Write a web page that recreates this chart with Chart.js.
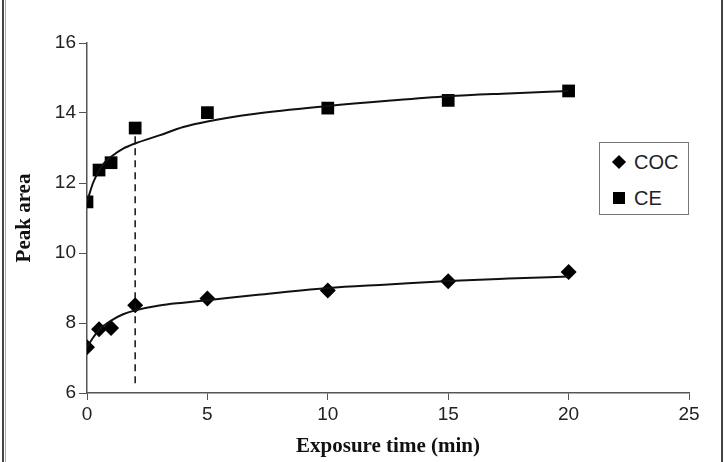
<!DOCTYPE html>
<html>
<head>
<meta charset="utf-8">
<script src="https://cdn.jsdelivr.net/npm/chart.js@4.4.0/dist/chart.umd.min.js"></script>
<style>
  html, body { margin: 0; padding: 0; background: #fff; }
  #wrap { position: relative; width: 724px; height: 462px; }
  #chart { position: absolute; left: 0; top: 0; }
  .edge { position: absolute; top: 0; bottom: 0; width: 2px; background: #444; }
  .edge2 { position: absolute; top: 0; bottom: 0; width: 1px; background: #aaa; }
  #legend {
    position: absolute; left: 599px; top: 142px; width: 88px; height: 71px;
    border: 1px solid #777; background: #fff;
    font-family: "Liberation Sans", Arial, sans-serif; font-size: 20px; color: #222;
  }
  .item { position: absolute; left: 11px; height: 24px; width: 70px; }
  .mk { position: absolute; background: #000; }
  .tx { position: absolute; left: 23px; top: 0; line-height: 24px; }
  .dia { width: 10px; height: 10px; transform: rotate(45deg); left: 3px; top: 7px; }
  .sq { width: 12px; height: 12px; left: 2px; top: 6px; }
</style>
</head>
<body>
<div id="wrap">
  <canvas id="chart" width="724" height="462"></canvas>
  <div class="edge" style="left:2px"></div>
  <div class="edge2" style="left:5px"></div>
  <div class="edge" style="left:721px"></div>
  <div id="legend">
    <div class="item" style="top:7px"><span class="mk dia"></span><span class="tx">COC</span></div>
    <div class="item" style="top:43px"><span class="mk sq"></span><span class="tx">CE</span></div>
  </div>
</div>
<script>
// measured points
const times = [0, 0.5, 1, 2, 5, 10, 15, 20]
const cocValues = [7.31, 7.82, 7.86, 8.51, 8.70, 8.93, 9.19, 9.46]
const ceValues = [11.46, 12.37, 12.58, 13.57, 14.01, 14.14, 14.36, 14.63]

// fitted curves
const fitTimes = [0, 0.25, 0.5, 0.75, 1, 1.5, 2, 3, 4, 5, 7, 10, 12.5, 15, 17.5, 20]
const cocFit = [7.31, 7.58, 7.80, 7.95, 8.07, 8.25, 8.36, 8.50, 8.58, 8.65, 8.80, 9.00, 9.10, 9.20, 9.27, 9.33]
const ceFit = [11.46, 12.00, 12.35, 12.60, 12.75, 12.98, 13.13, 13.36, 13.60, 13.76, 13.98, 14.20, 14.35, 14.48, 14.56, 14.63]

// dashed marker at 2 min
const markerX = [2, 2]
const markerY = [6.28, 13.4]

const xTicks = [0, 5, 10, 15, 20, 25]
const yTicks = [6, 8, 10, 12, 14, 16]

function pts(xs, ys) {
    return xs.map((x, i) => ({ x: x, y: ys[i] }))
}

const axisColor = '#555'
const tickFont = { family: '"Liberation Sans", Arial, sans-serif', size: 19 }
const titleFont = { family: '"Liberation Serif", "Times New Roman", serif', size: 21, weight: 'bold' }

new Chart(document.getElementById('chart'), {
    type: 'scatter',
    data: {
        datasets: [
            {
                label: 'COC fit', data: pts(fitTimes, cocFit), showLine: true,
                borderColor: '#111', borderWidth: 2, pointRadius: 0, cubicInterpolationMode: 'monotone'
            },
            {
                label: 'CE fit', data: pts(fitTimes, ceFit), showLine: true,
                borderColor: '#111', borderWidth: 2, pointRadius: 0, cubicInterpolationMode: 'monotone'
            },
            {
                label: 'marker', data: pts(markerX, markerY), showLine: true,
                borderColor: '#111', borderWidth: 1.5, borderDash: [7, 5], pointRadius: 0
            },
            {
                label: 'COC', data: pts(times, cocValues), pointStyle: 'rectRot',
                pointRadius: 8, backgroundColor: '#000', borderColor: '#000', borderWidth: 0
            },
            {
                label: 'CE', data: pts(times, ceValues), pointStyle: 'rect',
                pointRadius: 9, backgroundColor: '#000', borderColor: '#000', borderWidth: 0
            }
        ]
    },
    options: {
        responsive: false,
        animation: false,
        layout: { padding: { top: 43, right: 35, left: 0, bottom: 0 } },
        plugins: { legend: { display: false }, tooltip: { enabled: false } },
        scales: {
            x: {
                type: 'linear', min: 0, max: 25,
                afterBuildTicks: s => { s.ticks = xTicks.map(v => ({ value: v })) },
                afterFit: s => { s.height = 69 },
                grid: { drawOnChartArea: false, drawTicks: true, tickLength: 7, color: axisColor },
                border: { color: axisColor, width: 1.5 },
                ticks: { color: '#222', font: tickFont, padding: 3 },
                title: { display: true, text: 'Exposure time (min)', color: '#111', font: titleFont, padding: { top: 0, bottom: 3 } }
            },
            y: {
                min: 6, max: 16,
                afterBuildTicks: s => { s.ticks = yTicks.map(v => ({ value: v })) },
                afterFit: s => { s.width = 87 },
                grid: { drawOnChartArea: false, drawTicks: true, tickLength: 8, color: axisColor },
                border: { color: axisColor, width: 1.5 },
                ticks: { color: '#222', font: tickFont, padding: 3 },
                title: { display: true, text: 'Peak area', color: '#111', font: titleFont, padding: { top: 12, bottom: 0 } }
            }
        }
    }
})
</script>
</body>
</html>
